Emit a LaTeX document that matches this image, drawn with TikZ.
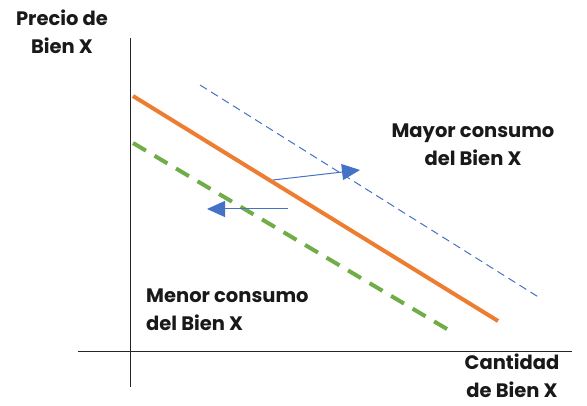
\documentclass[tikz,border=0pt]{standalone}
\usepackage{fontspec}
\setmainfont{Poppins}
\usetikzlibrary{arrows.meta}
\definecolor{orng}{HTML}{ED7D31}
\definecolor{grn}{HTML}{70AD47}
\definecolor{blu}{HTML}{4472C4}
\tikzset{
  lbl/.style={font=\fontsize{19.5}{28}\selectfont\bfseries, align=center, inner sep=0pt, text=black!90},
  axis/.style={draw=black!85, line width=1pt},
  shift arrow/.style={draw=blu, line width=1pt, -{Triangle[length=18pt,width=16pt]}}
}
\begin{document}
\begin{tikzpicture}[x=1pt,y=-1pt]
\useasboundingbox (0,0) rectangle (587,406);
% axes
\coordinate (ytop) at (130,38);
\coordinate (ybot) at (130,387);
\coordinate (xl) at (78,352);
\coordinate (xr) at (572,352);
\draw[axis] (ytop) -- (ybot);
\draw[axis] (xl) -- (xr);
% curves
\coordinate (o1) at (133,96);
\coordinate (o2) at (498,321);
\coordinate (g1) at (133,143);
\coordinate (g2) at (452,332);
\coordinate (b1) at (200,85);
\coordinate (b2) at (540,298);
\draw[orng, line width=4pt] (o1) -- (o2);
\draw[grn, line width=4pt, dash pattern=on 15pt off 10pt] (g1) -- (g2);
\draw[blu, line width=1pt, dash pattern=on 8pt off 5pt] (b1) -- (b2);
% arrows
\coordinate (a1s) at (273,180);
\coordinate (a1e) at (360,170);
\coordinate (a2s) at (288,209);
\coordinate (a2e) at (207,209);
\draw[shift arrow] (a1s) -- (a1e);
\draw[shift arrow] (a2s) -- (a2e);
% labels
\node[lbl] (py) at (62,32) {Precio de\\Bien X};
\node[lbl] (may) at (473,145) {Mayor consumo\\del Bien X};
\node[lbl, align=left, anchor=west] (men) at (146,310) {Menor consumo\\del Bien X};
\node[lbl] (cx) at (512,376) {Cantidad\\de Bien X};
\end{tikzpicture}
\end{document}
